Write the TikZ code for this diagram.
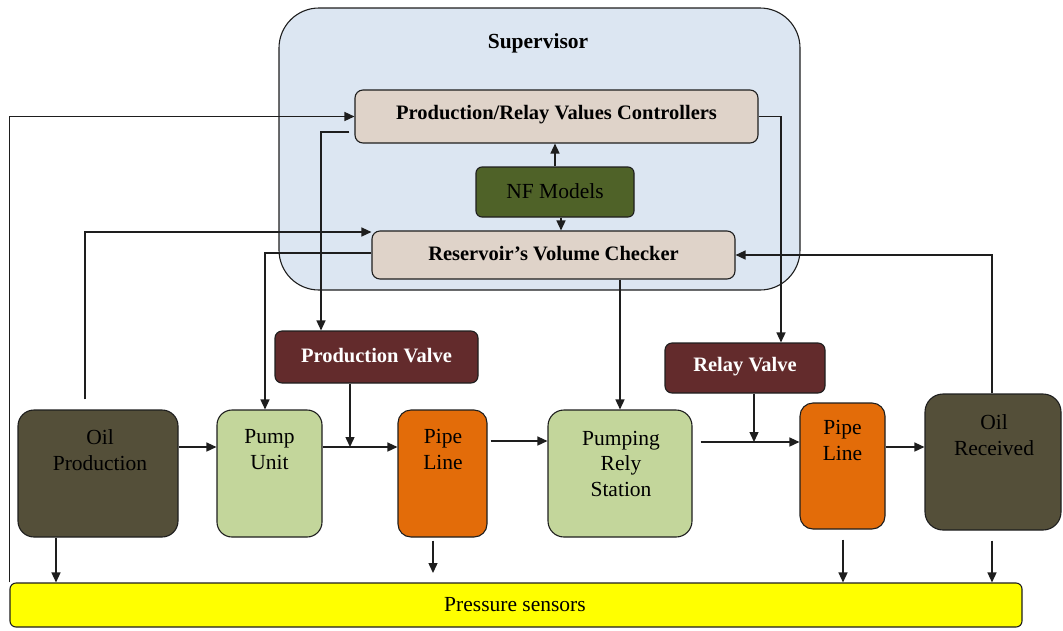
\documentclass[tikz,border=0pt]{standalone}
\usepackage{fontspec}
\setmainfont{Liberation Serif}
\usetikzlibrary{arrows.meta}
\definecolor{supfill}{HTML}{DCE6F2}
\definecolor{beige}{HTML}{DFD3C9}
\definecolor{nfgreen}{HTML}{4F6228}
\definecolor{valvered}{HTML}{632B2C}
\definecolor{oilbrown}{HTML}{544F39}
\definecolor{pumpgreen}{HTML}{C3D69B}
\definecolor{pipeorange}{HTML}{E36C09}
\definecolor{sensyellow}{HTML}{FFFF00}
\definecolor{linec}{HTML}{1E1E1E}
\begin{document}
\begin{tikzpicture}[x=1pt,y=-1pt,
  box/.style={draw=linec, line width=1.1pt, rounded corners=#1, inner sep=0pt},
  box/.default=15pt,
  txt/.style={font=\fontsize{21.5}{25.5}\selectfont, align=center, inner sep=0pt},
  btxt/.style={font=\bfseries\fontsize{20.5}{24}\selectfont, align=center, inner sep=0pt},
  conn/.style={draw=linec, line width=1.4pt, -{Triangle[length=10pt,width=9pt]}},
  plain/.style={draw=linec, line width=1.4pt}]
\useasboundingbox (0,0) rectangle (1063,630);

% Supervisor
\node[box=40pt, fill=supfill, minimum width=521pt, minimum height=282pt] (sup) at (539.5,149) {};
\node[btxt, font=\bfseries\fontsize{21.5}{24}\selectfont] (suptitle) at (538,43) {Supervisor};
\node[box=8pt, fill=beige, minimum width=403pt, minimum height=53pt] (prvc) at (556.5,116.5) {};
\node[btxt] (prvct) at (556.5,115) {Production/Relay Values Controllers};
\node[box=6pt, fill=nfgreen, minimum width=158pt, minimum height=50pt] (nf) at (555,192) {};
\node[txt, text=black] (nft) at (555,191) {NF Models};
\node[box=8pt, fill=beige, minimum width=363pt, minimum height=48pt] (rvc) at (553.5,255) {};
\node[btxt] (rvct) at (553.5,254) {Reservoir’s Volume Checker};

% Valves
\node[box=7pt, fill=valvered, minimum width=203pt, minimum height=52pt] (pv) at (376.5,357) {};
\node[btxt, text=white] (pvt) at (376.5,356) {Production Valve};
\node[box=7pt, fill=valvered, minimum width=160pt, minimum height=50pt] (rv) at (745,368) {};
\node[btxt, text=white] (rvt) at (745,367) {Relay Valve};

% Process boxes
\node[box=16pt, fill=oilbrown, minimum width=160pt, minimum height=127pt] (op) at (98,473.5) {};
\node[txt] (opt) at (100,450) {Oil\\Production};
\node[box=15pt, fill=pumpgreen, minimum width=105pt, minimum height=127pt] (pu) at (269.5,473.5) {};
\node[txt] (put) at (269.5,449.5) {Pump\\Unit};
\node[box=13pt, fill=pipeorange, minimum width=89pt, minimum height=127pt] (pl1) at (442.5,473.5) {};
\node[txt] (pl1t) at (443,449.5) {Pipe\\Line};
\node[box=16pt, fill=pumpgreen, minimum width=144pt, minimum height=127pt] (prs) at (620,473.5) {};
\node[txt] (prst) at (621,463.5) {Pumping\\Rely\\Station};
\node[box=13pt, fill=pipeorange, minimum width=85pt, minimum height=126pt] (pl2) at (842.5,466) {};
\node[txt] (pl2t) at (842.5,440.5) {Pipe\\Line};
\node[box=18pt, fill=oilbrown, minimum width=136pt, minimum height=136pt] (or) at (993,462) {};
\node[txt] (ort) at (994,435) {Oil\\Received};

% Pressure sensors
\node[box=6pt, fill=sensyellow, minimum width=1012pt, minimum height=44pt] (ps) at (516,605) {};
\node[txt] (pst) at (515,605) {Pressure sensors};

% Supervisor connectors
\draw[conn] (ps.north west) |- (prvc.west);
\draw[conn] ([xshift=-5pt,yshift=-15.5pt]prvc.west) -| ([xshift=-55.5pt]pv.north);
\draw[conn] ([xshift=-13pt,yshift=10pt]op.north) |- ([yshift=23pt]rvc.west);
\draw[conn] ([yshift=2pt]rvc.west) -| ([xshift=-4.5pt]pu.north);
\draw[conn] (nf.north) -- (nf.north |- prvc.south);
\draw[conn] ([xshift=6pt]nf.south) -- ([xshift=6pt]nf.south |- rvc.north);
\draw[conn] (prvc.east) -| ([xshift=36pt]rv.north);
\draw[conn] ([xshift=-1pt]or.north) |- (rvc.east);
\draw[conn] (prs.north |- rvc.south) -- (prs.north);

% Flow connectors
\coordinate (j1) at (350,447);
\coordinate (j2) at (754,442);
\draw[conn] ([yshift=26.5pt]op.east) -- ([yshift=26.5pt]pu.west);
\draw[conn] ([yshift=26.5pt]pu.east) -- (pl1.west |- j1);
\draw[conn] (pv.south -| j1) -- (j1);
\draw[conn] ([xshift=3pt,yshift=32.5pt]pl1.east) -- ([yshift=32.5pt]prs.west);
\draw[conn] ([xshift=8pt,yshift=31.5pt]prs.east) -- (pl2.west |- j2);
\draw[conn] (rv.south -| j2) -- (j2);
\draw[conn] ([yshift=19pt]pl2.east) -- (or.west |- 0,447);

% Sensor connectors
\draw[conn] (op.south -| 56,0) -- (ps.north -| 56,0);
\draw[conn] ([yshift=-3pt]pl1.south -| 433,0) -- (433,573);
\draw[conn] ([yshift=-10pt]pl2.south -| 843,0) -- (ps.north -| 843,0);
\draw[conn] ([yshift=-10pt]or.south -| 992,0) -- (ps.north -| 992,0);
\end{tikzpicture}
\end{document}
